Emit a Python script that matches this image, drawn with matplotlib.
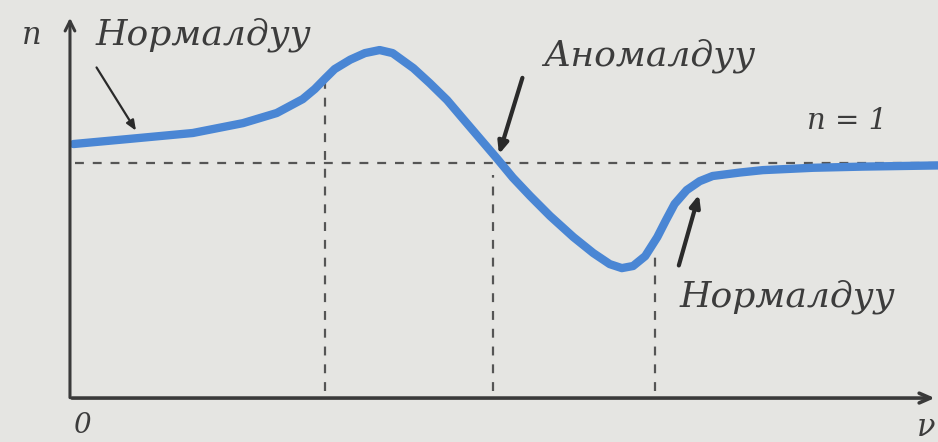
import numpy as np
import matplotlib.pyplot as plt

# refractive index n versus frequency nu
nu_curve = [0.04, 0.66, 1.42, 2.00, 2.39, 2.69, 2.83, 2.95, 3.06, 3.24, 3.41,
            3.58, 3.73, 3.97, 4.16, 4.36, 4.54, 4.74, 4.94, 5.12, 5.32, 5.55,
            5.82, 6.05, 6.24, 6.38, 6.51, 6.65, 6.79, 6.89, 6.99, 7.13, 7.28,
            7.43, 7.75, 8.01, 8.59, 9.17, 10.04]
n_curve = [1.081, 1.102, 1.128, 1.170, 1.213, 1.272, 1.315, 1.360, 1.400, 1.440,
           1.468, 1.481, 1.468, 1.404, 1.340, 1.268, 1.190, 1.104, 1.018, 0.938,
           0.860, 0.775, 0.685, 0.617, 0.570, 0.553, 0.562, 0.604, 0.685, 0.757,
           0.826, 0.885, 0.923, 0.945, 0.960, 0.970, 0.980, 0.985, 0.990]

# vertical dashed guides: frequency and where they stop at the top
guide_nu = [2.95, 4.89, 6.76]
guide_top = [1.36, 0.95, 0.63]

n_ref = 1.0
label_normal = "Нормалдуу"
label_anomal = "Аномалдуу"

bg = "#e5e5e2"
ink = "#3a3a3a"
blue = "#4a86d4"

fig = plt.figure(figsize=(9.38, 4.42), dpi=100, facecolor=bg)
ax = fig.add_axes([0, 0, 1, 1])
ax.set_facecolor(bg)
ax.set_xlim(-0.809, 10.035)
ax.set_ylim(-0.187, 1.694)
ax.axis("off")

# axes with arrows
ax.annotate("", xy=(0, 1.63), xytext=(0, -0.01),
            arrowprops=dict(arrowstyle="->,head_length=0.7,head_width=0.35",
                            color=ink, lw=2.2))
ax.annotate("", xy=(10.03, 0.0), xytext=(-0.01, 0.0),
            arrowprops=dict(arrowstyle="->,head_length=0.8,head_width=0.35",
                            color=ink, lw=2.6))

# n = 1 reference and guide lines
ax.plot([0.06, 10.04], [n_ref, n_ref], color="#555555", lw=1.6,
        dashes=(4, 4))
for x, top in zip(guide_nu, guide_top):
    ax.plot([x, x], [0.03, top], color="#555555", lw=1.6, dashes=(4, 4))

# dispersion curve
ax.plot(nu_curve, n_curve, color=blue, lw=6, solid_capstyle="round",
        solid_joinstyle="round")

# pointer arrows
ax.annotate("", xy=(0.78, 1.128), xytext=(0.29, 1.417),
            arrowprops=dict(arrowstyle="-|>,head_length=0.6,head_width=0.25",
                            color="#2a2a2a", lw=1.6))
ax.annotate("", xy=(4.95, 1.026), xytext=(5.24, 1.374),
            arrowprops=dict(arrowstyle="-|>,head_length=0.7,head_width=0.3",
                            color="#2a2a2a", lw=3))
ax.annotate("", xy=(7.28, 0.877), xytext=(7.03, 0.553),
            arrowprops=dict(arrowstyle="-|>,head_length=0.7,head_width=0.3",
                            color="#2a2a2a", lw=3))

# labels
tfont = dict(family="DejaVu Serif", style="italic", color="#3c3c3c")
ax.text(-0.44, 1.545, "n", fontsize=22, ha="center", va="center", **tfont)
ax.text(0.29, 1.545, label_normal, fontsize=26, ha="left", va="center", **tfont)
ax.text(5.47, 1.455, label_anomal, fontsize=26, ha="left", va="center", **tfont)
ax.text(8.52, 1.18, "n = 1", fontsize=21, ha="left", va="center", **tfont)
ax.text(7.05, 0.43, label_normal, fontsize=26, ha="left", va="center", **tfont)
ax.text(0.14, -0.115, "0", fontsize=20, ha="center", va="center", **tfont)
ax.text(9.90, -0.125, "ν", fontsize=22, ha="center", va="center", **tfont)

fig.savefig("out.png", dpi=100, facecolor=bg)
